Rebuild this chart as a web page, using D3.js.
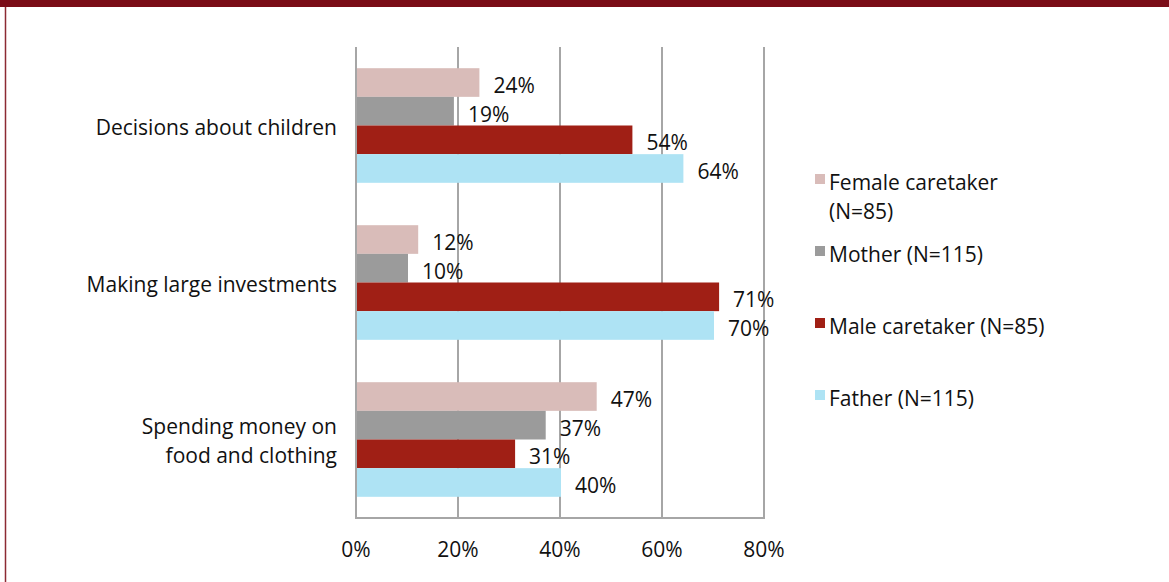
<!DOCTYPE html>
<html><head><meta charset="utf-8">
<script src="https://cdn.jsdelivr.net/npm/d3@7"></script>
<style>
html,body{margin:0;padding:0;background:#fff;}
svg{display:block;font-family:"Open Sans",sans-serif;}
</style></head>
<body><svg id="c" width="1169" height="582"></svg>
<script>
const categories = ["Decisions about children", "Making large investments", "Spending money on\nfood and clothing"];
const seriesNames = ["Female caretaker (N=85)", "Mother (N=115)", "Male caretaker (N=85)", "Father (N=115)"];
const femaleCaretaker = [24, 12, 47];
const mother = [19, 10, 37];
const maleCaretaker = [54, 71, 31];
const father = [64, 70, 40];
const xTicks = [0, 20, 40, 60, 80];
const colors = ["#d9bcb9", "#9b9b9b", "#a01f15", "#aee3f4"];
const seriesValues = [femaleCaretaker, mother, maleCaretaker, father];
const FS = 21;

const svg = d3.select("#c");
// frame
svg.append("rect").attr("x",0).attr("y",0).attr("width",1169).attr("height",7).attr("fill","#7a0c17");
svg.append("line").attr("x1",5.5).attr("x2",5.5).attr("y1",7).attr("y2",582).attr("stroke","#8c2a33").attr("stroke-width",1.5);

const x = d3.scaleLinear().domain([0,80]).range([356,764]);
const y = d3.scaleBand().domain(categories).range([47,518]).paddingInner(0.27).paddingOuter(0.135);
const ySub = d3.scaleBand().domain(seriesNames).range([0,y.bandwidth()]);

// gridlines
svg.append("g").selectAll("line").data(xTicks).join("line")
  .attr("x1",d=>x(d)).attr("x2",d=>x(d)).attr("y1",47).attr("y2",518)
  .attr("stroke","#a6a6a6").attr("stroke-width",2);
svg.append("line").attr("x1",355).attr("x2",765).attr("y1",518).attr("y2",518)
  .attr("stroke","#a6a6a6").attr("stroke-width",2);

// bars
const data = [];
categories.forEach((c,i)=>seriesNames.forEach((s,j)=>data.push({c,s,j,v:seriesValues[j][i]})));
svg.append("g").selectAll("rect").data(data).join("rect")
  .attr("x",x(0)+1).attr("y",d=>y(d.c)+ySub(d.s))
  .attr("width",d=>x(d.v)-x(0)).attr("height",ySub.bandwidth())
  .attr("fill",d=>colors[d.j]);

// labels
svg.append("g").selectAll("text").data(data).join("text")
  .attr("x",d=>x(d.v)+15).attr("y",d=>y(d.c)+ySub(d.s)+ySub.bandwidth()/2+5)
  .attr("dominant-baseline","middle").attr("font-size",FS).attr("fill","#111")
  .text(d=>d.v+"%");

// x axis tick labels
svg.append("g").selectAll("text").data(xTicks).join("text")
  .attr("x",d=>x(d)).attr("y",557).attr("text-anchor","middle").attr("font-size",FS).attr("fill","#111")
  .text(d=>d+"%");

// category labels
categories.forEach(c=>{
  const lines = c.split("\n");
  const cy = y(c)+y.bandwidth()/2;
  const t = svg.append("text").attr("text-anchor","end").attr("font-size",FS).attr("fill","#111");
  lines.forEach((l,k)=>{
    t.append("tspan").attr("x",337).attr("y",cy+9+(k-(lines.length-1)/2)*29).text(l);
  });
});

// legend
const legendY = [183, 255, 327, 399];
const legendLines = [["Female caretaker","(N=85)"],["Mother (N=115)"],["Male caretaker (N=85)"],["Father (N=115)"]];
seriesNames.forEach((s,j)=>{
  svg.append("rect").attr("x",815).attr("y",legendY[j]-9).attr("width",10).attr("height",10).attr("fill",colors[j]);
  const t = svg.append("text").attr("font-size",FS).attr("fill","#111");
  legendLines[j].forEach((l,k)=>t.append("tspan").attr("x",829).attr("y",legendY[j]+7+k*29).text(l));
});
</script></body></html>
